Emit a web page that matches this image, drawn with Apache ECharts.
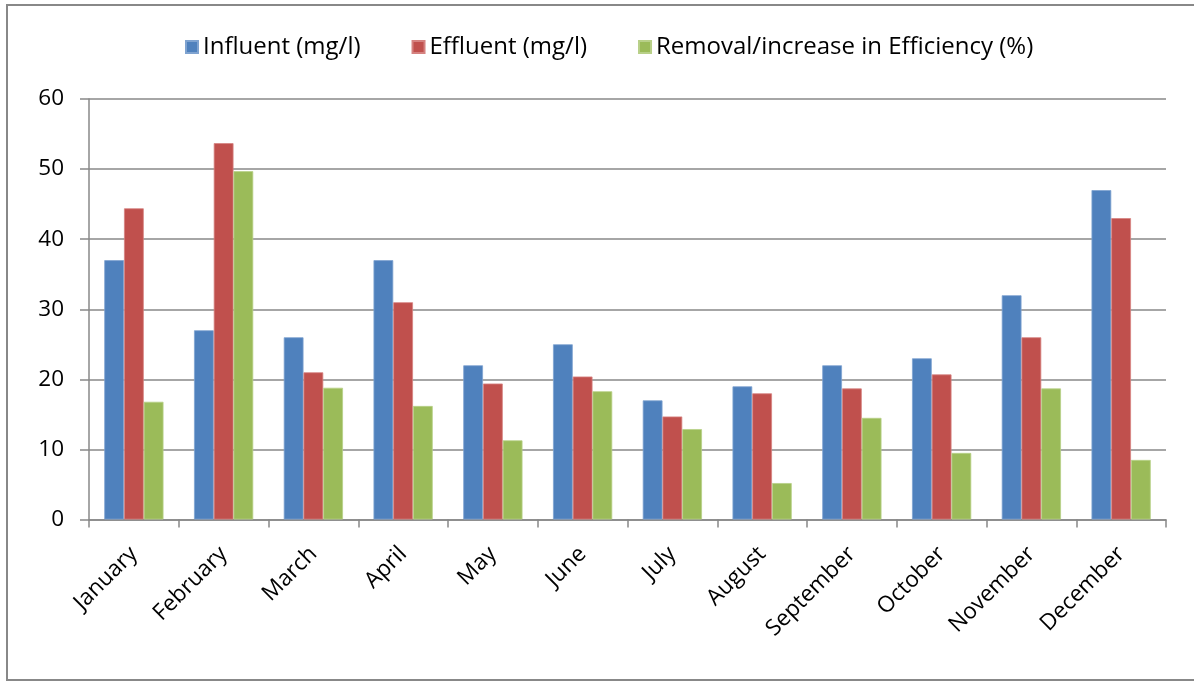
<!DOCTYPE html>
<html>
<head>
<meta charset="utf-8">
<style>
  html, body { margin: 0; padding: 0; background: #ffffff; }
  #chart { width: 1194px; height: 681px; }
</style>
<script src="https://cdn.jsdelivr.net/npm/echarts@6/dist/echarts.min.js"></script>
</head>
<body>
<div id="chart"></div>
<script>
// Monthly influent / effluent concentrations and removal efficiency
const months = ['January', 'February', 'March', 'April', 'May', 'June',
  'July', 'August', 'September', 'October', 'November', 'December'];
const influent = [37, 27, 26, 37, 22, 25, 17, 19, 22, 23, 32, 47];
const effluent = [44.4, 53.7, 21, 31, 19.4, 20.4, 14.7, 18, 18.7, 20.7, 26, 43];
const efficiency = [16.8, 49.7, 18.8, 16.2, 11.3, 18.3, 12.9, 5.2, 14.5, 9.5, 18.7, 8.5];
const yTicks = { min: 0, max: 60, step: 10 };

const FONT = '"Open Sans", "Noto Sans", sans-serif';
const GREY = '#888888';

const chart = echarts.init(document.getElementById('chart'), null, { renderer: 'canvas' });

chart.setOption({
  animation: false,
  backgroundColor: '#ffffff',
  graphic: [{
    type: 'rect',
    shape: { x: 7, y: 5, width: 1200, height: 675 },
    style: { fill: 'none', stroke: GREY, lineWidth: 2 },
    silent: true
  }],
  legend: {
    top: 30,
    left: 180,
    itemWidth: 12,
    itemHeight: 12,
    itemGap: 51,
    icon: 'rect',
    textStyle: { fontFamily: FONT, fontSize: 24, color: '#000000', padding: [0, 0, 0, 0] },
    data: ['Influent (mg/l)', 'Effluent (mg/l)', 'Removal/increase in Efficiency (%)']
  },
  grid: { left: 89, top: 99, width: 1077, height: 420.5, containLabel: false },
  xAxis: {
    type: 'category',
    data: months,
    boundaryGap: true,
    axisLine: { show: true, lineStyle: { color: GREY, width: 1.5 } },
    axisTick: { show: true, length: 8, alignWithLabel: false, lineStyle: { color: GREY, width: 1.5 } },
    axisLabel: {
      interval: 0,
      rotate: 45,
      margin: 31,
      fontFamily: FONT,
      fontSize: 22.5,
      color: '#000000'
    },
    splitLine: { show: false }
  },
  yAxis: {
    type: 'value',
    min: yTicks.min,
    max: yTicks.max,
    interval: yTicks.step,
    axisLine: { show: true, lineStyle: { color: GREY, width: 1.5 } },
    axisTick: { show: true, length: 9, lineStyle: { color: GREY, width: 1.5 } },
    axisLabel: { margin: 25, fontFamily: FONT, fontSize: 22.5, color: '#000000' },
    splitLine: { show: true, lineStyle: { color: GREY, width: 1.5 } }
  },
  series: [
    {
      name: 'Influent (mg/l)', type: 'bar', data: influent,
      barGap: '0%', barCategoryGap: '34%',
      itemStyle: { color: '#4F81BD', borderColor: '#7fa3d0', borderWidth: 0.8 }
    },
    {
      name: 'Effluent (mg/l)', type: 'bar', data: effluent,
      barGap: '0%', barCategoryGap: '34%',
      itemStyle: { color: '#C0504D', borderColor: '#d58280', borderWidth: 0.8 }
    },
    {
      name: 'Removal/increase in Efficiency (%)', type: 'bar', data: efficiency,
      barGap: '0%', barCategoryGap: '34%',
      itemStyle: { color: '#9BBB59', borderColor: '#b8d088', borderWidth: 0.8 }
    }
  ]
});
</script>
</body>
</html>
